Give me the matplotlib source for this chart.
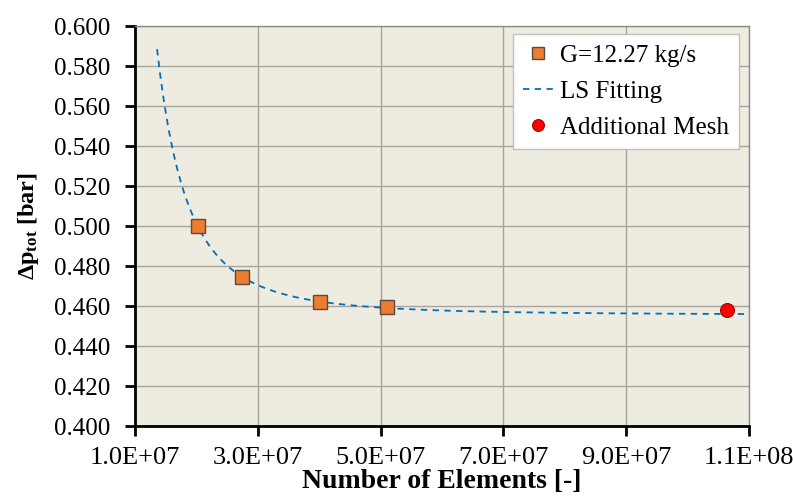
import numpy as np
import matplotlib
matplotlib.use('Agg')
import matplotlib.pyplot as plt
from matplotlib.ticker import FixedLocator, MultipleLocator, FuncFormatter

plt.rcParams['font.family'] = ['Liberation Serif', 'DejaVu Serif']
plt.rcParams['mathtext.fontset'] = 'custom'
plt.rcParams['mathtext.rm'] = 'Liberation Serif:bold'
plt.rcParams['mathtext.bf'] = 'Liberation Serif:bold'
plt.rcParams['mathtext.it'] = 'Liberation Serif:bold'

# mesh study data
elements = [2.02e7, 2.75e7, 4.01e7, 5.10e7]
dp_tot = [0.500, 0.4747, 0.4618, 0.4593]

extra_elements = [1.065e8]
extra_dp = [0.4578]

# x tick positions shown on the chart
x_ticks = [1e7, 3e7, 5e7, 7e7, 9e7, 1.1e8]

# range of the fitted curve
fit_start = 1.36e7
fit_end = 1.1e8


def ls_fit(x, y):
    """least squares fit of y = a + b * x**-c"""
    xs = np.asarray(x) / 1e7
    ys = np.asarray(y)
    best = None
    for c in np.linspace(0.5, 6, 2201):
        A = np.column_stack([np.ones_like(xs), xs ** -c])
        coef, res, _, _ = np.linalg.lstsq(A, ys, rcond=None)
        err = np.sum((A @ coef - ys) ** 2)
        if best is None or err < best[0]:
            best = (err, coef[0], coef[1], c)
    return best[1:]


a, b, c = ls_fit(elements, dp_tot)
xfit = np.linspace(fit_start, fit_end, 400)
yfit = a + b * (xfit / 1e7) ** -c

fig = plt.figure(figsize=(7.93, 5.01), dpi=100)
ax = fig.add_axes([0.1702, 0.1497, 0.7743, 0.7983])
ax.set_facecolor('#EEEBE0')

ax.plot(xfit, yfit, linestyle=(0, (3.5, 3)), color='#0070C0', linewidth=1.3,
        label='LS Fitting', zorder=3)
ax.plot(elements, dp_tot, linestyle='none', marker='s', markersize=10,
        markerfacecolor='#ED7D31', markeredgecolor='#5E4A3A', markeredgewidth=1,
        label='G=12.27 kg/s', zorder=4)
ax.plot(extra_elements, extra_dp, linestyle='none', marker='o', markersize=10,
        markerfacecolor='#FF0000', markeredgecolor='#A00000', markeredgewidth=0.8,
        label='Additional Mesh', zorder=4)

ax.set_xlim(1e7, 1.1e8)
ax.set_ylim(0.4, 0.6)
ax.xaxis.set_major_locator(FixedLocator(x_ticks))
ax.yaxis.set_major_locator(MultipleLocator(0.02))

ax.xaxis.set_major_formatter(FuncFormatter(lambda v, p: '%.1E' % v))
ax.yaxis.set_major_formatter(FuncFormatter(lambda v, p: '%.3f' % v))

ax.grid(True, color='#A8A49C', linewidth=1)
ax.set_axisbelow(True)

for side in ['top', 'right']:
    ax.spines[side].set_color('#8C8C8C')
    ax.spines[side].set_linewidth(1)
for side in ['left', 'bottom']:
    ax.spines[side].set_color('black')
    ax.spines[side].set_linewidth(2)

ax.tick_params(axis='both', direction='out', length=7, width=2, color='black')
ax.tick_params(axis='x', labelsize=19, pad=8)
ax.tick_params(axis='y', labelsize=18, pad=11)

ax.set_xlabel('Number of Elements [-]', fontsize=20, fontweight='bold')
ax.xaxis.set_label_coords(0.5, -0.108)
ax.set_ylabel(r'$\mathbf{\Delta p_{tot}}$ [bar]', fontsize=17.5, fontweight='bold',
              labelpad=9)

handles, labels = ax.get_legend_handles_labels()
order = [1, 0, 2]
leg = ax.legend([handles[i] for i in order], [labels[i] for i in order],
                loc='upper right', bbox_to_anchor=(0.984, 0.98), borderaxespad=0,
                fontsize=18, frameon=True, fancybox=False, framealpha=1,
                edgecolor='#BFBFBF', handlelength=1.2, handletextpad=0.3,
                borderpad=0.4, labelspacing=0.55, markerscale=0.85)
leg.get_frame().set_linewidth(1)

plt.savefig('out.png', dpi=100)
